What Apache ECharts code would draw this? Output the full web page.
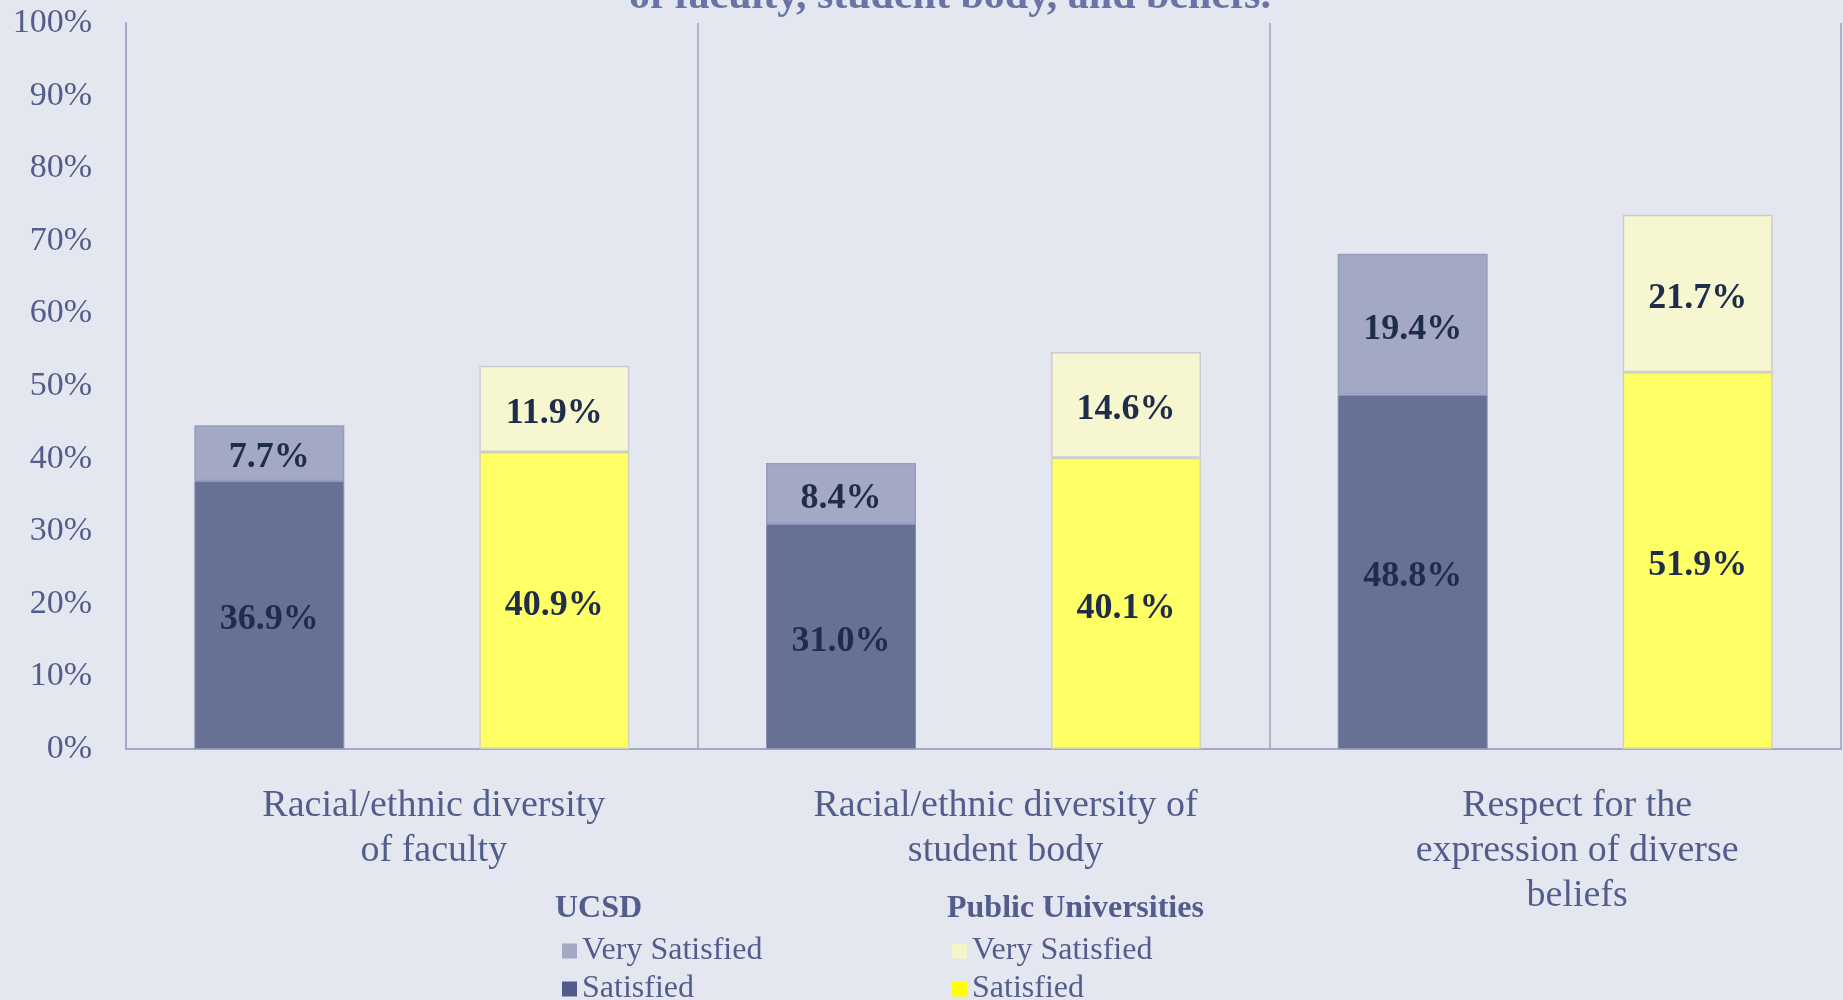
<!DOCTYPE html>
<html>
<head>
    <meta charset="utf-8">
    <title>Satisfaction with diversity</title>
    <script src="https://cdn.jsdelivr.net/npm/echarts@6/dist/echarts.min.js"></script>
    <style>
        html, body { margin: 0; padding: 0; background: #e4e7f0; }
        #chart { width: 1843px; height: 1000px; }
    </style>
</head>
<body>
    <div id="chart"></div>
    <script>
    var categories = ["Racial/ethnic diversity\nof faculty", "Racial/ethnic diversity of\nstudent body", "Respect for the\nexpression of diverse\nbeliefs"];
    var ucsdSatisfied = [36.9, 31.0, 48.8];
    var ucsdVery = [7.7, 8.4, 19.4];
    var pubSatisfied = [40.9, 40.1, 51.9];
    var pubVery = [11.9, 14.6, 21.7];

    var serif = "'Liberation Serif', 'Times New Roman', serif";
    var axisColor = "#535d8c";
    var lineColor = "#a3a8c6";

    function barLabel() {
        return {
            show: true, position: "inside", color: "#1f2d4a", fontFamily: serif,
            fontWeight: "bold", fontSize: 36, offset: [0, 5],
            formatter: function (p) { return p.value.toFixed(1) + "%"; }
        };
    }

    // one legend per item so each sits where the reference puts it
    function legendItem(name, label, color, left, top) {
        return {
            left: left, top: top, itemWidth: 15, itemHeight: 15, itemGap: 8, icon: "rect",
            textStyle: { fontFamily: serif, fontSize: 32, color: axisColor },
            formatter: function () { return label; },
            data: [{ name: name, itemStyle: { color: color, borderWidth: 0 } }]
        };
    }

    var chart = echarts.init(document.getElementById("chart"));
    chart.setOption({
        backgroundColor: "#e4e7f0",
        animation: false,
        title: {
            text: "of faculty, student body, and beliefs.",
            left: 945, top: -29, textAlign: "center",
            textStyle: { fontFamily: serif, fontWeight: "bold", fontSize: 42, color: "#6a73a5" }
        },
        grid: { left: 126, right: 2, top: 23, bottom: 251 },
        legend: [
            legendItem("UCSD Very Satisfied", "Very Satisfied", "#a3a8c3", 557, 930),
            legendItem("UCSD Satisfied", "Satisfied", "#525c8a", 557, 968),
            legendItem("Public Very Satisfied", "Very Satisfied", "#f5f5c6", 947, 930),
            legendItem("Public Satisfied", "Satisfied", "#ffff00", 947, 968)
        ],
        graphic: [
            { type: "text", left: 555, top: 893, style: { text: "UCSD", font: "bold 32px " + serif, fill: axisColor } },
            { type: "text", left: 947, top: 893, style: { text: "Public Universities", font: "bold 32px " + serif, fill: axisColor } }
        ],
        xAxis: {
            type: "category",
            data: categories,
            axisTick: { show: false },
            axisLine: { lineStyle: { color: lineColor, width: 2 } },
            splitLine: { show: true, lineStyle: { color: "#9aa0c0", width: 1.5 } },
            axisLabel: { fontFamily: serif, fontSize: 38, color: axisColor, lineHeight: 45, margin: 35, interval: 0, padding: [0, 0, 0, 44] }
        },
        yAxis: {
            type: "value", min: 0, max: 100, interval: 10,
            axisLine: { show: true, lineStyle: { color: lineColor, width: 2 } },
            axisTick: { show: false },
            splitLine: { show: false },
            axisLabel: { fontFamily: serif, fontSize: 34, color: axisColor, margin: 34, formatter: "{value}%" }
        },
        series: [
            { name: "UCSD Satisfied", type: "bar", stack: "ucsd", data: ucsdSatisfied, barWidth: 150, barGap: "90%",
              itemStyle: { color: "#677196", borderColor: "#8b92b4", borderWidth: 1 }, label: barLabel() },
            { name: "UCSD Very Satisfied", type: "bar", stack: "ucsd", data: ucsdVery, barWidth: 150, barGap: "90%",
              itemStyle: { color: "#a3a8c4", borderColor: "#979dbd", borderWidth: 1.5 }, label: barLabel() },
            { name: "Public Satisfied", type: "bar", stack: "pub", data: pubSatisfied, barWidth: 150, barGap: "90%",
              itemStyle: { color: "#ffff66", borderColor: "#d2d2b8", borderWidth: 1.5 }, label: barLabel() },
            { name: "Public Very Satisfied", type: "bar", stack: "pub", data: pubVery, barWidth: 150, barGap: "90%",
              itemStyle: { color: "#f6f6d0", borderColor: "#c9cbd6", borderWidth: 1.5 }, label: barLabel() }
        ]
    });
    </script>
</body>
</html>
